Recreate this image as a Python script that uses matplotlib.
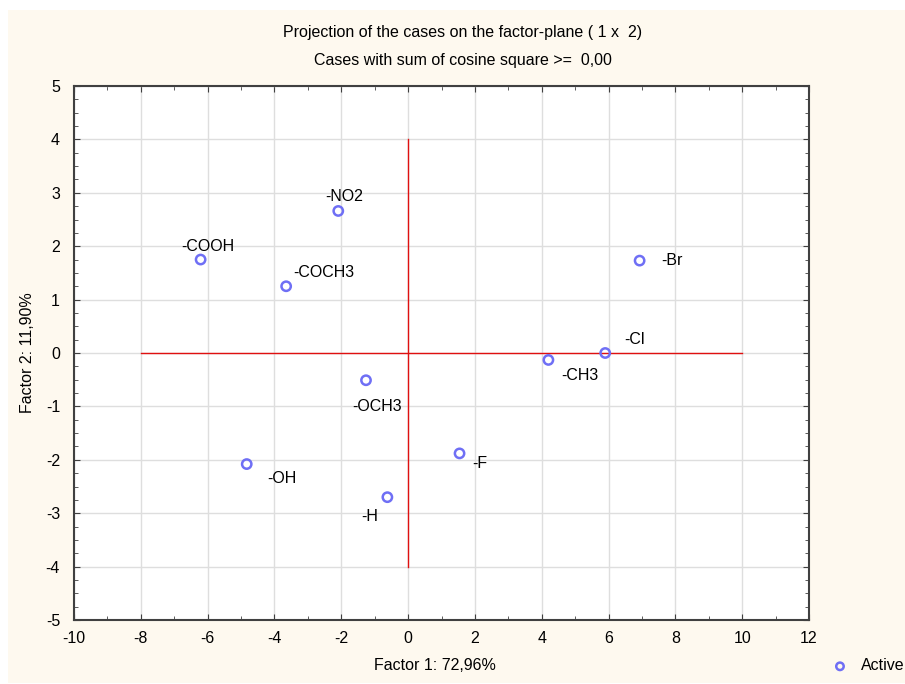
import matplotlib
matplotlib.use("Agg")
import matplotlib.pyplot as plt
from matplotlib.patches import Rectangle
from matplotlib.ticker import MultipleLocator

plt.rcParams["font.family"] = ["Liberation Sans", "DejaVu Sans"]
plt.rcParams["axes.unicode_minus"] = False

# Data
labels = ["-NO2", "-COOH", "-COCH3", "-Br", "-Cl", "-CH3", "-OCH3", "-F", "-OH", "-H"]
factor1 = [-2.09, -6.21, -3.65, 6.93, 5.90, 4.20, -1.26, 1.54, -4.83, -0.62]
factor2 = [2.66, 1.75, 1.25, 1.73, 0.00, -0.13, -0.51, -1.88, -2.08, -2.70]
# label offsets in pixels (dx, dy), left/centre aligned
offsets = [(-13, 14), (-19, 13), (7, 14), (22, 0), (19, 14), (13, -16),
           (-14, -26), (13, -10), (21, -14), (-26, -19)]

FS = 11.5
W, H = 905, 684
fig = plt.figure(figsize=(W / 100, H / 100), dpi=100)
fig.patch.set_facecolor("white")
fig.patches.append(Rectangle((8 / W, 1 - 683 / H), (W - 8) / W, (683 - 10) / H,
                             transform=fig.transFigure, facecolor="#fef9ef",
                             edgecolor="none", zorder=-10))

ax = fig.add_axes([74 / W, 1 - 620 / H, (809 - 74) / W, (620 - 86) / H])
ax.set_facecolor("white")
ax.set_xlim(-10, 12)
ax.set_ylim(-5, 5)
ax.xaxis.set_major_locator(MultipleLocator(2))
ax.xaxis.set_minor_locator(MultipleLocator(1))
ax.yaxis.set_major_locator(MultipleLocator(1))
ax.yaxis.set_minor_locator(MultipleLocator(0.25))
ax.grid(True, which="major", color="#dedede", lw=1)
ax.set_axisbelow(True)
ax.tick_params(which="both", direction="in", top=True, right=True,
               labelsize=FS, colors="#404040", labelcolor="black")
ax.tick_params(axis="x", pad=8)
ax.tick_params(axis="y", pad=10)
ax.tick_params(which="major", length=4)
ax.tick_params(which="minor", length=3)
for s in ax.spines.values():
    s.set_color("#404040")
    s.set_linewidth(1.5)

# origin cross
ax.plot([-8, 10], [0, 0], color="#e01010", lw=1, zorder=2)
ax.plot([0, 0], [-4, 4], color="#e01010", lw=1, zorder=2)

ax.scatter(factor1, factor2, s=45, facecolors="none", edgecolors="#6f6ff5",
           linewidths=1.8, zorder=3, label="Active")
for lab, x, y, (dx, dy) in zip(labels, factor1, factor2, offsets):
    ax.annotate(lab, (x, y), xytext=(dx * 0.72, dy * 0.72), textcoords="offset points",
                ha="left", va="center", fontsize=FS)

fig.text(435 / W, 1 - 666 / H, "Factor 1: 72,96%", ha="center", va="center", fontsize=FS)
fig.text(28 / W, 1 - 353 / H, "Factor 2: 11,90%", ha="center", va="center",
         rotation=90, fontsize=FS)

fig.text(463 / W, 1 - 32 / H, "Projection of the cases on the factor-plane ( 1 x  2)",
         ha="center", va="center", fontsize=FS)
fig.text(463 / W, 1 - 60 / H, "Cases with sum of cosine square >=  0,00",
         ha="center", va="center", fontsize=FS)

ax.legend(loc="center left", bbox_to_anchor=(824 / W, 1 - 666 / H),
          bbox_transform=fig.transFigure, frameon=False, fontsize=FS,
          handletextpad=0.3, borderpad=0, borderaxespad=0, markerscale=0.8)

fig.savefig("out.png", dpi=100)
